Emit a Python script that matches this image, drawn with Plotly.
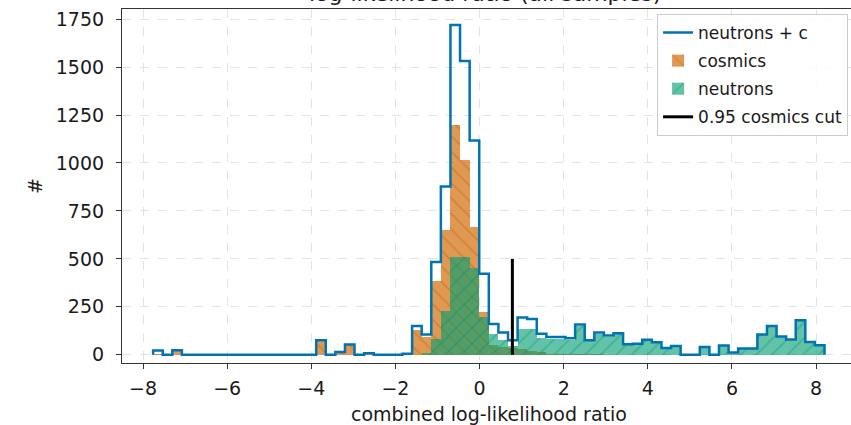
import numpy as np
import plotly.graph_objects as go

# Histogram binning of the combined log-likelihood ratio
BIN_LO = -7.76
BIN_HI = 8.20
N_BINS = 70

# Counts per bin (70 bins, left to right)
total_counts = [
    22, 0, 23, 0, 0, 0, 0, 0, 0, 0,
    0, 0, 0, 0, 0, 0, 0, 75, 0, 15,
    53, 0, 8, 0, 0, 0, 5, 150, 106, 484,
    878, 1720, 1532, 1117, 423, 161, 116, 76, 194, 186,
    110, 93, 93, 86, 158, 76, 116, 100, 112, 55,
    58, 78, 65, 35, 45, 0, 0, 40, 0, 48,
    12, 32, 32, 105, 150, 95, 80, 180, 67, 50,
]
cosmics_counts = [
    5, 0, 20, 0, 0, 2, 0, 0, 0, 0,
    1, 0, 0, 0, 0, 0, 2, 70, 0, 15,
    50, 0, 6, 0, 0, 0, 5, 130, 95, 385,
    649, 1200, 1014, 666, 223, 50, 40, 35, 30, 20,
    12, 5, 3, 3, 2, 2, 2, 1, 1, 1,
    1, 1, 1, 0, 0, 0, 0, 0, 0, 0,
    0, 0, 0, 0, 0, 0, 0, 0, 0, 0,
]
neutrons_counts = [
    0, 0, 0, 0, 0, 0, 0, 0, 0, 0,
    0, 0, 0, 0, 0, 0, 0, 0, 0, 0,
    0, 0, 0, 0, 0, 0, 0, 0, 10, 80,
    230, 510, 510, 455, 195, 110, 78, 45, 135, 132,
    90, 80, 82, 78, 150, 70, 110, 95, 108, 52,
    55, 76, 63, 35, 45, 0, 0, 40, 0, 48,
    12, 32, 32, 105, 150, 95, 80, 180, 67, 50,
]

# Cut position and drawn height of the marker line
CUT_X = 0.78
CUT_HEIGHT = 500

X_TICKS = [-8, -6, -4, -2, 0, 2, 4, 6, 8]
Y_TICKS = [0, 250, 500, 750, 1000, 1250, 1500, 1750]

edges = np.linspace(BIN_LO, BIN_HI, N_BINS + 1)
centers = 0.5 * (edges[:-1] + edges[1:])
bin_w = edges[1] - edges[0]

# step outline for the combined histogram (closed down to zero at both ends)
step_x = np.concatenate([[edges[0]], edges])
step_y = np.concatenate([[0], total_counts, [0]])

FONT = "DejaVu Sans"
TXT = "#1a1a1a"

fig = go.Figure()

fig.add_trace(go.Bar(
    x=centers, y=cosmics_counts, width=bin_w, name="cosmics",
    legendgroup="c", legendrank=2,
    marker=dict(
        color="rgba(212,118,25,0.75)", line=dict(width=0),
        pattern=dict(shape="\\", fgcolor="rgba(190,95,10,0.9)", size=11,
                     solidity=0.14, fillmode="overlay"),
    ),
))
fig.add_trace(go.Bar(
    x=centers, y=neutrons_counts, width=bin_w, name="neutrons",
    legendgroup="n", legendrank=3,
    marker=dict(
        color="rgba(2,158,115,0.62)", line=dict(width=0),
        pattern=dict(shape="/", fgcolor="rgba(2,145,100,0.85)", size=11,
                     solidity=0.14, fillmode="overlay"),
    ),
))
fig.add_trace(go.Scatter(
    x=step_x, y=step_y, mode="lines", name="neutrons + c",
    legendgroup="t", legendrank=1,
    line=dict(color="#0173b2", width=2.5, shape="hv"),
))
fig.add_trace(go.Scatter(
    x=[CUT_X, CUT_X], y=[0, CUT_HEIGHT], mode="lines",
    name="0.95 cosmics cut", legendgroup="k", legendrank=4,
    line=dict(color="black", width=3),
))

# chart title, sitting just above the top spine
fig.add_annotation(
    text="log-likelihood ratio (all samples)", xref="paper", yref="paper",
    x=0.498, y=1, xanchor="center", yanchor="bottom", yshift=1,
    showarrow=False, font=dict(family=FONT, size=22, color=TXT),
)
# x-axis label
fig.add_annotation(
    text="combined log-likelihood ratio", xref="paper", yref="paper",
    x=0.503, y=0, xanchor="center", yanchor="middle", yshift=-51,
    showarrow=False, font=dict(family=FONT, size=19, color=TXT),
)

fig.update_layout(
    width=851, height=425,
    margin=dict(l=122, r=0, t=9, b=62),
    paper_bgcolor="white", plot_bgcolor="white",
    barmode="overlay", bargap=0,
    font=dict(family=FONT, size=19, color=TXT),
    showlegend=True,
    legend=dict(
        x=0.996, y=0.986, xanchor="right", yanchor="top",
        bgcolor="rgba(255,255,255,0.85)", bordercolor="#cccccc", borderwidth=1,
        font=dict(family=FONT, size=17, color=TXT),
        tracegroupgap=3, itemwidth=30,
    ),
    xaxis=dict(
        range=[-8.5, 8.83], tickvals=X_TICKS, ticks="outside", ticklen=5,
        tickcolor="#333", showline=True, linecolor="#333", linewidth=1.2,
        mirror=True, showgrid=True, gridcolor="#e3e3e3", griddash="dash",
        ticklabelstandoff=3, automargin=False,
        zeroline=False,
    ),
    yaxis=dict(
        range=[-43, 1803], tickvals=Y_TICKS, ticks="outside", ticklen=5,
        tickcolor="#333", showline=True, linecolor="#333", linewidth=1.2,
        showgrid=True, gridcolor="#e3e3e3", griddash="dash",
        ticklabelstandoff=8,
        zeroline=False, title=dict(text="#", standoff=8, font=dict(size=19)),
    ),
)

fig.write_html("out.html")
